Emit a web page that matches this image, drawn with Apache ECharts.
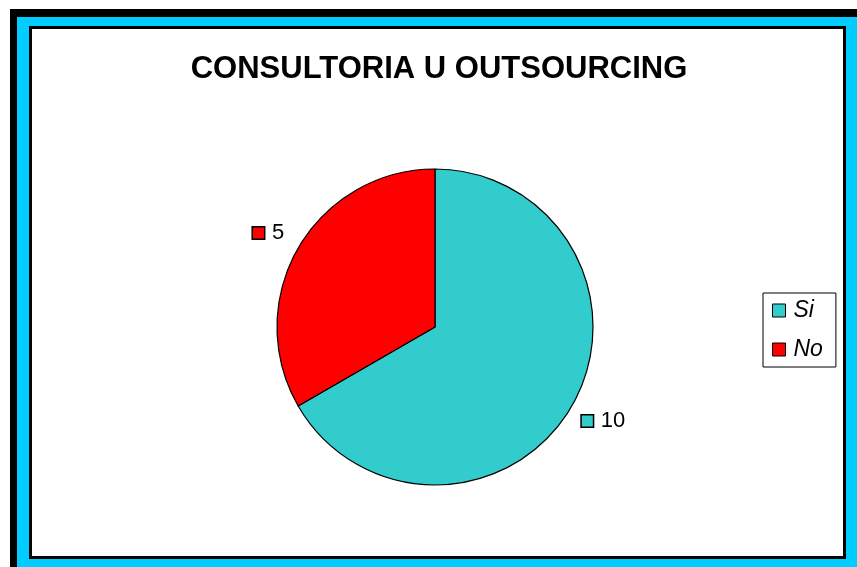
<!DOCTYPE html>
<html>
<head>
<meta charset="utf-8">
<script src="https://cdn.jsdelivr.net/npm/echarts@6/dist/echarts.min.js"></script>
<style>
  html, body { margin: 0; padding: 0; background: #fff; overflow: hidden; }
  .outer {
    position: absolute; left: 10px; top: 9px; width: 900px; height: 600px;
    background: #00ccff; border-left: 7px solid #000; border-top: 8px solid #000;
  }
  .inner {
    position: absolute; left: 29px; top: 26px; width: 811px; height: 527px;
    background: #fff; border: 3px solid #000;
  }
  #chart { position: absolute; left: 0; top: 0; width: 857px; height: 567px; }
</style>
</head>
<body>
<div class="outer"></div>
<div class="inner"></div>
<div id="chart"></div>
<script>
// datos del grafico
const categories = ['Si', 'No']
const values = [10, 5]
const colors = ['#33cccc', '#ff0000']
// ajuste de la etiqueta (centrada como en Excel)
const labelDist = [-16, -12]

const font = "'Liberation Sans', Arial, sans-serif"
const chart = echarts.init(document.getElementById('chart'))

const option = {
  animation: false,
  title: {
    text: 'CONSULTORIA U OUTSOURCING',
    left: 434,
    textAlign: 'center',
    top: 49,
    textStyle: { fontFamily: font, fontSize: 31, fontWeight: 'bold', color: '#000' }
  },
  legend: {
    orient: 'vertical',
    left: 763,
    top: 293,
    padding: [6, 13, 6, 9],
    itemGap: 16,
    itemWidth: 13,
    itemHeight: 13,
    icon: 'rect',
    borderColor: '#000',
    borderWidth: 1,
    itemStyle: { borderColor: '#000', borderWidth: 1 },
    textStyle: { fontFamily: font, fontSize: 23, fontStyle: 'italic', color: '#000', padding: [0, 0, 0, 3] },
    data: categories
  },
  series: [
    {
      type: 'pie',
      center: [435, 327],
      radius: 158,
      startAngle: 90,
      clockwise: true,
      emphasis: { disabled: true },
      itemStyle: { borderColor: '#000', borderWidth: 1.2 },
      labelLine: { show: false, length: 30, length2: 0 },
      label: {
        show: true,
        position: 'outside',
        formatter: (p) => '{m' + p.dataIndex + '|}{t|' + p.value + '}',
        rich: {
          m0: { width: 11, height: 11, backgroundColor: colors[0], borderColor: '#000', borderWidth: 1.5 },
          m1: { width: 11, height: 11, backgroundColor: colors[1], borderColor: '#000', borderWidth: 1.5 },
          t: { fontFamily: font, fontSize: 22, color: '#000', padding: [0, 0, 0, 8] }
        }
      },
      data: categories.map((name, i) => ({
        name: name,
        value: values[i],
        itemStyle: { color: colors[i] },
        label: { distanceToLabelLine: labelDist[i] }
      }))
    }
  ]
}
chart.setOption(option)
</script>
</body>
</html>
